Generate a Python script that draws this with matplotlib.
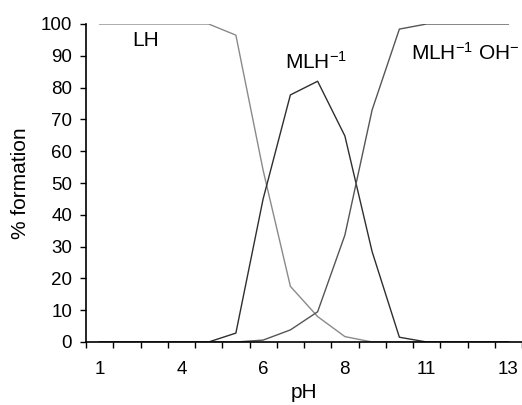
import numpy as np
import matplotlib.pyplot as plt

plt.rcParams['font.family'] = ['Liberation Sans', 'DejaVu Sans']
plt.rcParams['mathtext.fontset'] = 'custom'
plt.rcParams['mathtext.rm'] = 'Liberation Sans'
plt.rcParams['mathtext.default'] = 'regular'

# pH categories (only every third one is labelled on the axis)
ph_labels = ['1', '', '', '4', '', '', '6', '', '', '8', '', '', '11', '', '', '13']

lh = [100, 100, 100, 100, 100, 96.5, 54, 17.5, 8, 1.7, 0, 0, 0, 0, 0, 0]
mlh = [0, 0, 0, 0, 0, 2.8, 45, 77.7, 82, 64.8, 28.4, 1.5, 0, 0, 0, 0]
mlh_oh = [0, 0, 0, 0, 0, 0, 0.6, 3.8, 9.5, 33.6, 73, 98.4, 100, 100, 100, 100]

x = np.arange(len(ph_labels))

fig = plt.figure(figsize=(5.22, 4.05), dpi=100)
ax = fig.add_axes([86 / 522, 1 - 342 / 405, 436 / 522, 318 / 405])

ax.plot(x, lh, color='#8a8a8a', linewidth=1.0)
ax.plot(x, mlh, color='#2e2e2e', linewidth=1.0)
ax.plot(x, mlh_oh, color='#555555', linewidth=1.0)

ax.set_xlim(-0.5, len(ph_labels) - 0.5)
ax.set_ylim(0, 100)
ax.set_yticks(np.arange(0, 101, 10))

# category axis: tick marks between categories, labels on the categories
ax.set_xticks(x)
ax.set_xticklabels(ph_labels)
ax.tick_params(axis='x', which='major', length=0, pad=14, labelsize=13.5)
ax.set_xticks(np.arange(-0.5, len(ph_labels)), minor=True)
ax.tick_params(axis='x', which='minor', length=4, width=1, direction='out')
ax.tick_params(axis='y', length=4, width=1, direction='out', pad=6, labelsize=13.5)

for side in ['top', 'right']:
    ax.spines[side].set_visible(False)
for side in ['left', 'bottom']:
    ax.spines[side].set_linewidth(1.2)

ax.set_xlabel('pH', fontsize=15, labelpad=3)
ax.set_ylabel('% formation', fontsize=15, labelpad=8)

ax.text(1.7, 94.8, 'LH', fontsize=15, ha='center', va='center')
ax.text(7.95, 88.2, 'MLH$^{-1}$', fontsize=15, ha='center', va='center')
ax.text(11.43, 90.8, 'MLH$^{-1}$ OH$^{-}$', fontsize=15, ha='left', va='center')

fig.savefig('out.png', dpi=100)
